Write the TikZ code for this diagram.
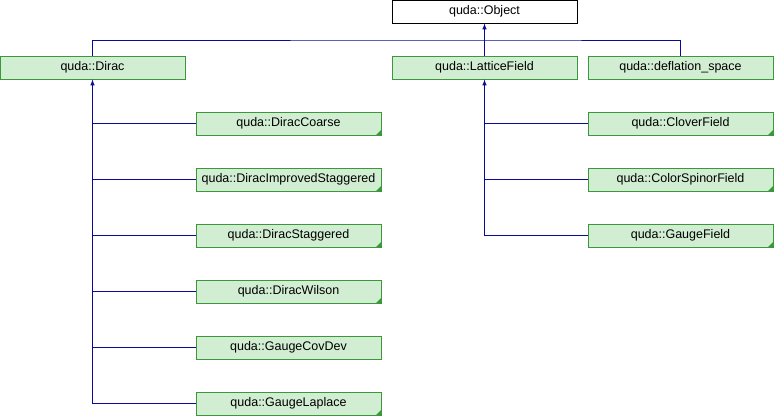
\documentclass[tikz,border=0pt]{standalone}
\usepackage{fontspec}
\setmainfont{Liberation Sans}
\usepackage{tikz}
\usetikzlibrary{positioning,arrows}
\definecolor{boxgreen}{RGB}{58,152,58}
\definecolor{boxfill}{RGB}{210,238,210}
\definecolor{linkblue}{RGB}{10,10,150}

\begin{document}
\begin{tikzpicture}[
	x=1pt, y=-1pt,
	cls/.style={
		draw=boxgreen,
		fill=boxfill,
		line width=1pt,
		minimum width=185pt,
		minimum height=23pt,
		inner sep=0pt,
		font=\fontsize{12.5}{14}\selectfont
	},
	root/.style={
		cls,
		draw=black,
		fill=white
	},
	more/.style={
		cls,
		path picture={
			\fill[boxgreen] (path picture bounding box.south east)
				-- ++(-5,0) -- ++(5,-5) -- cycle;
		}
	},
	link/.style={
		draw=linkblue,
		line width=1pt
	},
	node distance=32pt
	]
	
	\useasboundingbox (0,0) rectangle (774,416);
	
	% top row
	\node[root] at (484.5, 11.5)
		(object) {quda::Object};
	\node[cls] at (92.5, 67.5)
		(dirac) {quda::Dirac};
	\node[cls] at (484.5, 67.5)
		(lattice) {quda::LatticeField};
	\node[cls] at (680.5, 67.5)
		(deflation) {quda::deflation\_space};
	
	% children of Dirac
	\node[more] at (288.5, 123.5)
		(coarse) {quda::DiracCoarse};
	\node[more, below=of coarse]
		(improved) {quda::DiracImprovedStaggered};
	\node[more, below=of improved]
		(staggered) {quda::DiracStaggered};
	\node[more, below=of staggered]
		(wilson) {quda::DiracWilson};
	\node[cls, below=of wilson]
		(covdev) {quda::GaugeCovDev};
	\node[more, below=of covdev]
		(laplace) {quda::GaugeLaplace};
	
	% children of LatticeField
	\node[more] at (680.5, 123.5)
		(clover) {quda::CloverField};
	\node[more, below=of clover]
		(spinor) {quda::ColorSpinorField};
	\node[more, below=of spinor]
		(gauge) {quda::GaugeField};
	
	\coordinate (bar) at (484.5, 40);
	
	\draw[link] (dirac.north) |- (bar) -| (deflation.north);
	\draw[link, -latex] (lattice.north) -- (object.south);
	
	\draw[link, -latex] (laplace.west) -| (dirac.south);
	\draw[link] (coarse.west) -- (coarse.west -| dirac.south);
	\draw[link] (improved.west) -- (improved.west -| dirac.south);
	\draw[link] (staggered.west) -- (staggered.west -| dirac.south);
	\draw[link] (wilson.west) -- (wilson.west -| dirac.south);
	\draw[link] (covdev.west) -- (covdev.west -| dirac.south);
	
	\draw[link, -latex] (gauge.west) -| (lattice.south);
	\draw[link] (clover.west) -- (clover.west -| lattice.south);
	\draw[link] (spinor.west) -- (spinor.west -| lattice.south);
	
\end{tikzpicture}
\end{document}
